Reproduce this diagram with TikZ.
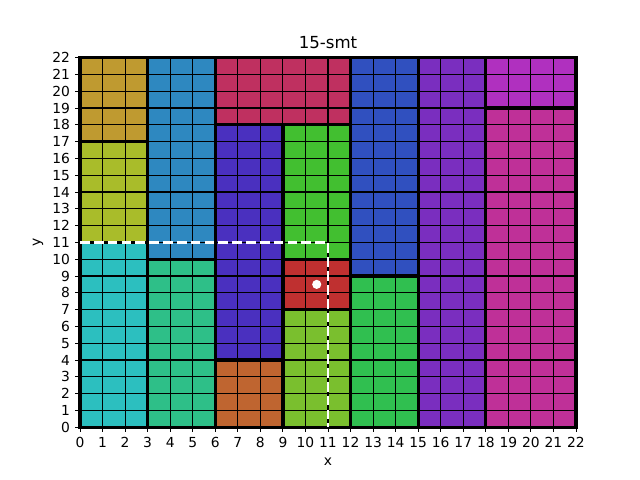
\documentclass[tikz,border=0pt]{standalone}
\usepackage{fontspec}
\setmainfont{DejaVu Sans}
\definecolor{cGold}{RGB}{191,154,48}
\definecolor{cYG}{RGB}{169,188,42}
\definecolor{cTeal}{RGB}{44,191,191}
\definecolor{cBlueA}{RGB}{46,136,192}
\definecolor{cSea}{RGB}{46,191,136}
\definecolor{cCrim}{RGB}{191,48,96}
\definecolor{cIndigo}{RGB}{74,48,191}
\definecolor{cOrange}{RGB}{191,101,48}
\definecolor{cGreen}{RGB}{66,191,48}
\definecolor{cRed}{RGB}{191,48,48}
\definecolor{cLime}{RGB}{122,191,46}
\definecolor{cBlueB}{RGB}{48,80,191}
\definecolor{cGreenB}{RGB}{48,191,80}
\definecolor{cPurple}{RGB}{122,46,191}
\definecolor{cViolet}{RGB}{176,48,191}
\definecolor{cMag}{RGB}{191,48,152}
\tikzset{
  blockedge/.style={draw=black, line width=2.4pt},
  gridline/.style={draw=black, line width=0.8pt},
  tickmark/.style={draw=black, line width=0.6pt},
  ticklab/.style={inner sep=0pt, font=\fontsize{10}{12}\selectfont},
  guide/.style={draw=white, line width=1.8pt, dash pattern=on 7pt off 3pt},
}
\newcommand{\blockrect}[5]{\fill[#5] (#1,#2) rectangle (#3,#4);}
\newcommand{\blockline}[4]{\draw[blockedge] (#1,#2) rectangle (#3,#4);}
\begin{document}
\begin{tikzpicture}[x=1in,y=1in]
\useasboundingbox (0,0) rectangle (6.4,4.8);
\node[font=\fontsize{12}{14}\selectfont] (title) at (3.28,4.37) {15-smt};
\node[font=\fontsize{10}{12}\selectfont] (xlab) at (3.28,0.18) {x};
\node[font=\fontsize{10}{12}\selectfont, rotate=90] (ylab) at (0.38,2.38) {y};
\begin{scope}[shift={(0.8,0.528)}, x=0.225455in, y=0.168in]
  \blockrect{0}{17}{3}{22}{cGold}
  \blockrect{0}{11}{3}{17}{cYG}
  \blockrect{0}{0}{3}{11}{cTeal}
  \blockrect{3}{10}{6}{22}{cBlueA}
  \blockrect{3}{0}{6}{10}{cSea}
  \blockrect{6}{18}{12}{22}{cCrim}
  \blockrect{6}{4}{9}{18}{cIndigo}
  \blockrect{6}{0}{9}{4}{cOrange}
  \blockrect{9}{10}{12}{18}{cGreen}
  \blockrect{9}{7}{12}{10}{cRed}
  \blockrect{9}{0}{12}{7}{cLime}
  \blockrect{12}{9}{15}{22}{cBlueB}
  \blockrect{12}{0}{15}{9}{cGreenB}
  \blockrect{15}{0}{18}{22}{cPurple}
  \blockrect{18}{19}{22}{22}{cViolet}
  \blockrect{18}{0}{22}{19}{cMag}
  \foreach \i in {0,...,22} {
    \draw[gridline] (\i,0) -- (\i,22);
    \draw[gridline] (0,\i) -- (22,\i);
  }
  \blockline{0}{17}{3}{22}
  \blockline{0}{11}{3}{17}
  \blockline{0}{0}{3}{11}
  \blockline{3}{10}{6}{22}
  \blockline{3}{0}{6}{10}
  \blockline{6}{18}{12}{22}
  \blockline{6}{4}{9}{18}
  \blockline{6}{0}{9}{4}
  \blockline{9}{10}{12}{18}
  \blockline{9}{7}{12}{10}
  \blockline{9}{0}{12}{7}
  \blockline{12}{9}{15}{22}
  \blockline{12}{0}{15}{9}
  \blockline{15}{0}{18}{22}
  \blockline{18}{19}{22}{22}
  \blockline{18}{0}{22}{19}
  \coordinate (g1) at (0,11);
  \coordinate (g2) at (11,11);
  \coordinate (g3) at (11,0);
  \draw[guide] (g1) -- (g2) -- (g3);
  \fill[white] (10.5,8.5) circle (3.3pt);
  \foreach \i in {0,...,22} {
    \draw[tickmark] (\i,0) -- ++(0,-3.5pt) node[ticklab, anchor=north, yshift=-3.5pt] (xt\i) {\i};
    \draw[tickmark] (0,\i) -- ++(-3.5pt,0) node[ticklab, anchor=east, xshift=-3.5pt] (yt\i) {\i};
  }
\end{scope}
\end{tikzpicture}
\end{document}
